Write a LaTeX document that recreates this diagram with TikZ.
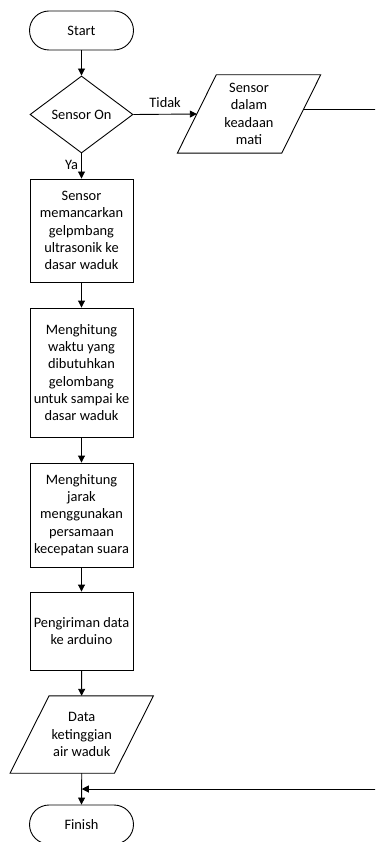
\documentclass[tikz,border=0pt]{standalone}
\usepackage{fontspec}
\setmainfont{Carlito}
\usetikzlibrary{shapes.geometric,arrows.meta,calc}
\begin{document}
\begin{tikzpicture}[x=1pt,y=-1pt,
  every node/.style={font=\fontsize{14.4}{17.3}\selectfont, text=black},
  line/.style={draw=black, line width=0.9pt},
  arr/.style={line, -{Triangle[length=7pt,width=7pt]}},
  term/.style={line, rectangle, rounded corners=19.5pt, minimum width=104pt, minimum height=39pt, inner sep=0pt},
  proc/.style={line, rectangle, minimum width=103pt, align=center, inner sep=0pt},
  dec/.style={line, diamond, aspect=1.34, minimum width=103pt, minimum height=77pt, inner sep=0pt},
  io/.style={rectangle, minimum width=104pt, align=center, inner sep=0pt},
  lbl/.style={inner sep=0pt}
]
\useasboundingbox (0,0) rectangle (375,842);
\clip (0,0) rectangle (375,842);

\node[term] (start) at (81.5,30.5) {Start};
\node[dec] (dec) at (81.5,114.5) {Sensor On};
\node[io, minimum height=78pt] (p1) at (249,114) {Sensor\\dalam\\keadaan\\mati};
\draw[line] ($(p1.north west)+(19.5,0)$) -- ($(p1.north east)+(19.5,0)$) -- ($(p1.south east)+(-19.5,0)$) -- ($(p1.south west)+(-19.5,0)$) -- cycle;

\node[proc, minimum height=103pt] (b1) at (81.5,230.5) {Sensor\\memancarkan\\gelpmbang\\ultrasonik ke\\dasar waduk};
\node[proc, minimum height=129pt] (b2) at (81.5,372.5) {Menghitung\\waktu yang\\dibutuhkan\\gelombang\\untuk sampai ke\\dasar waduk};
\node[proc, minimum height=104pt] (b3) at (81.5,515) {Menghitung\\jarak\\menggunakan\\persamaan\\kecepatan suara};
\node[proc, minimum height=78pt] (b4) at (81.5,631) {Pengiriman data\\ke arduino};
\node[io, minimum height=77pt] (p2) at (81.75,734.5) {Data\\ketinggian\\air waduk};
\draw[line] ($(p2.north west)+(19.5,0)$) -- ($(p2.north east)+(19.5,0)$) -- ($(p2.south east)+(-19.5,0)$) -- ($(p2.south west)+(-19.5,0)$) -- cycle;
\node[term] (finish) at (81.5,824.5) {Finish};

\draw[arr] (start) -- (dec);
\draw[arr] (dec.east) -- (p1.west) node[lbl, pos=0.5, above=6pt] {Tidak};
\draw[arr] (dec.south) -- (b1.north) node[lbl, pos=0.45, left=3pt] {Ya};
\draw[arr] (b1) -- (b2);
\draw[arr] (b2) -- (b3);
\draw[arr] (b3) -- (b4);
\draw[arr] (b4) -- (p2);
\draw[arr] (p2.south) -- (finish.north);

\coordinate (exit) at ($(p1.east)+(2,-5)$);
\coordinate (r1) at (380,109);
\coordinate (r2) at (380,789);
\coordinate (join) at (p2.south |- r2);
\draw[arr] (exit) -- (r1) -- (r2) -- (join);
\end{tikzpicture}
\end{document}
